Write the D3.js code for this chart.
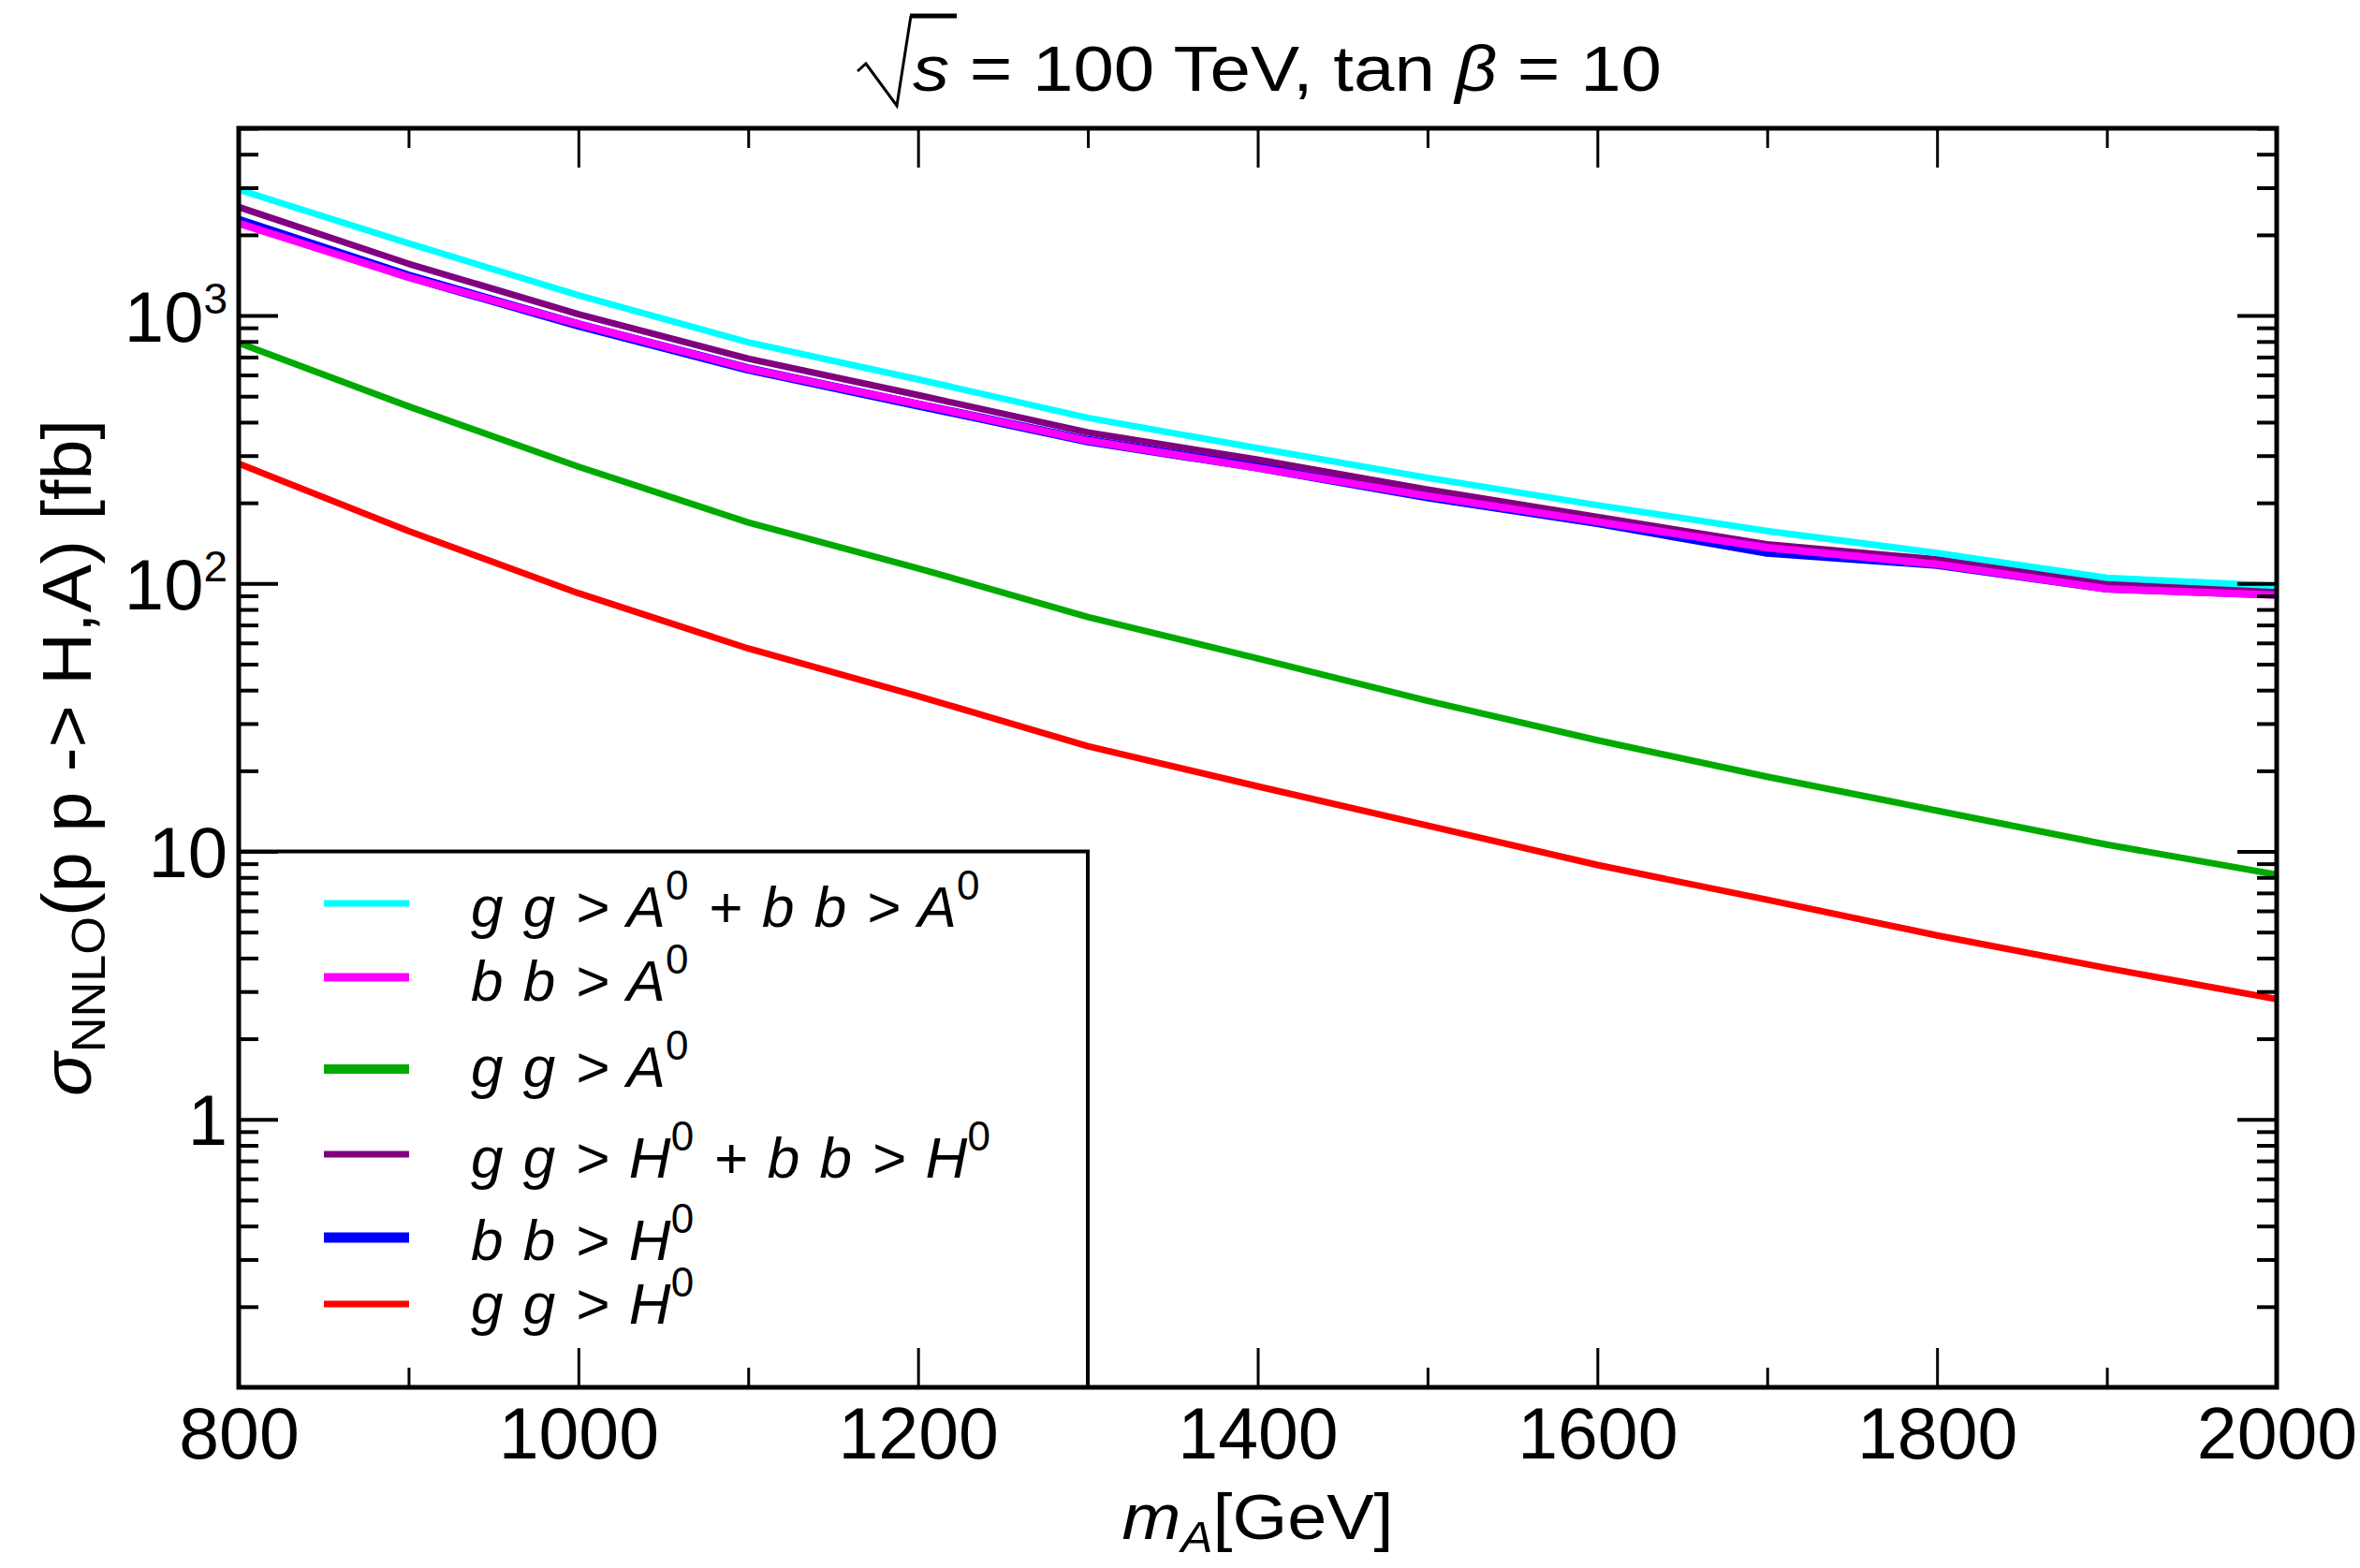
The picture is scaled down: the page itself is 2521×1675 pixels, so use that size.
<!DOCTYPE html>
<html><head><meta charset="utf-8">
<script src="https://cdn.jsdelivr.net/npm/d3@7"></script>
<style>
body{margin:0;background:#fff}
text{font-family:"Liberation Sans",Arial,Helvetica,sans-serif;fill:#000}
</style>
</head><body>
<svg id="c" width="2521" height="1675" xmlns="http://www.w3.org/2000/svg"></svg>
<script>
// ---------------- data ----------------
const massGeV   = [800, 900, 1000, 1100, 1200, 1300, 1400, 1500, 1600, 1700, 1800, 1900, 2000];
const ggA_bbA   = [2950, 1860, 1190, 795, 578, 415, 320, 248, 196, 157, 130, 105, 98];
const bbA       = [2210, 1390, 930, 634, 467, 341, 270, 212, 170, 136, 118, 95.5, 90.5];
const ggA       = [790, 458, 273, 169, 114, 75, 52.5, 36.5, 26, 19, 14.2, 10.6, 8.2];
const ggH_bbH   = [2540, 1560, 1012, 690, 505, 366, 290, 224, 177, 140, 123, 100, 94];
const bbH       = [2265, 1402, 922, 632, 464, 341, 272, 211, 169, 131, 118, 96.3, 91.3];
const ggH       = [280, 157, 92, 57.2, 38, 24.7, 17.5, 12.5, 8.9, 6.6, 4.86, 3.67, 2.81];

const legendLabels = ["g g > A^0 + b b > A^0", "b b > A^0", "g g > A^0",
                      "g g > H^0 + b b > H^0", "b b > H^0", "g g > H^0"];
const xTickValues = [800, 1000, 1200, 1400, 1600, 1800, 2000];
const xMinorTicks = [900, 1100, 1300, 1500, 1700, 1900];
const yTickValues = [1, 10, 100, 1000];
const yTickBase   = ["1", "10", "10", "10"];
const yTickExp    = ["", "", "2", "3"];
const yMinorTicks = [0.2,0.3,0.4,0.5,0.6,0.7,0.8,0.9, 2,3,4,5,6,7,8,9,
                     20,30,40,50,60,70,80,90, 200,300,400,500,600,700,800,900,
                     2000,3000,4000,5000];

// ---------------- styles ----------------
const series = [
  {values: ggA_bbA, color: "#00FFFF", w: 7,  lw: 7},
  {values: bbA,     color: "#FF00FF", w: 8,  lw: 9},
  {values: ggA,     color: "#00AA00", w: 7,  lw: 10},
  {values: ggH_bbH, color: "#800080", w: 7,  lw: 7},
  {values: bbH,     color: "#0000FF", w: 10, lw: 11},
  {values: ggH,     color: "#FF0000", w: 7,  lw: 7}
];
const drawOrder = [4, 5, 2, 3, 1, 0];

const svg = d3.select("#c");
const FONT = "Liberation Sans, Arial, sans-serif";
const L = 255, R = 2432, T = 137, B = 1482;
const x = d3.scaleLinear().domain([800, 2000]).range([L, R]);
const y = d3.scaleLog().domain([0.1, 5000]).range([B, T]);

// legend box (drawn first, below axes ticks)
const legX0 = L, legX1 = 1162, legY0 = y(10), legY1 = B;
svg.append("rect").attr("x", legX0).attr("y", legY0)
  .attr("width", legX1 - legX0).attr("height", legY1 - legY0)
  .attr("fill", "#fff").attr("stroke", "#000").attr("stroke-width", 4);

// clip for lines
svg.append("clipPath").attr("id", "clip").append("rect")
  .attr("x", L).attr("y", T).attr("width", R - L).attr("height", B - T);

// lines
const line = d3.line().x(d => x(d[0])).y(d => y(d[1]));
const gl = svg.append("g").attr("clip-path", "url(#clip)");
drawOrder.forEach(i => {
  const s = series[i];
  gl.append("path")
    .attr("d", line(massGeV.map((m, k) => [m, s.values[k]])))
    .attr("fill", "none").attr("stroke", s.color).attr("stroke-width", s.w)
    .attr("stroke-linejoin", "round");
});

// axes
function clean(g, w) {
  g.select(".domain").remove();
  g.selectAll(".tick line").attr("stroke", "#000").attr("stroke-width", w);
  g.attr("font-family", FONT);
}
// bottom
const gB = svg.append("g").attr("transform", `translate(0,${B})`)
  .call(d3.axisBottom(x).tickValues(xTickValues).tickSizeInner(-42).tickSizeOuter(0)
        .tickPadding(21).tickFormat(d3.format("d")));
clean(gB, 3);
gB.attr("font-size", 77);
gB.selectAll("text").attr("fill", "#000");
const gBm = svg.append("g").attr("transform", `translate(0,${B})`)
  .call(d3.axisBottom(x).tickValues(xMinorTicks).tickSizeInner(-21).tickSizeOuter(0).tickFormat(""));
clean(gBm, 3);
// top
const gT = svg.append("g").attr("transform", `translate(0,${T})`)
  .call(d3.axisTop(x).tickValues(xTickValues).tickSizeInner(-42).tickSizeOuter(0).tickFormat(""));
clean(gT, 3);
const gTm = svg.append("g").attr("transform", `translate(0,${T})`)
  .call(d3.axisTop(x).tickValues(xMinorTicks).tickSizeInner(-21).tickSizeOuter(0).tickFormat(""));
clean(gTm, 3);
// left
const gLft = svg.append("g").attr("transform", `translate(${L},0)`)
  .call(d3.axisLeft(y).tickValues(yTickValues).tickSizeInner(-42).tickSizeOuter(0).tickFormat(""));
clean(gLft, 4);
gLft.selectAll(".tick").each(function(d, i) {
  const t = d3.select(this).append("text")
    .attr("x", -12).attr("y", 0).attr("dy", "0.355em")
    .attr("text-anchor", "end").attr("font-size", 76).attr("fill", "#000");
  t.append("tspan").text(yTickBase[i]);
  if (yTickExp[i]) t.append("tspan").attr("font-size", 46).attr("dy", -30).text(yTickExp[i]);
});
const gLm = svg.append("g").attr("transform", `translate(${L},0)`)
  .call(d3.axisLeft(y).tickValues(yMinorTicks).tickSizeInner(-21).tickSizeOuter(0).tickFormat(""));
clean(gLm, 4);
// right
const gR = svg.append("g").attr("transform", `translate(${R},0)`)
  .call(d3.axisRight(y).tickValues(yTickValues).tickSizeInner(-42).tickSizeOuter(0).tickFormat(""));
clean(gR, 4);
const gRm = svg.append("g").attr("transform", `translate(${R},0)`)
  .call(d3.axisRight(y).tickValues(yMinorTicks).tickSizeInner(-21).tickSizeOuter(0).tickFormat(""));
clean(gRm, 4);

// frame
svg.append("rect").attr("x", L).attr("y", T).attr("width", R - L).attr("height", B - T)
  .attr("fill", "none").attr("stroke", "#000").attr("stroke-width", 5);

// title
const title = svg.append("text").attr("x", 975).attr("y", 97)
  .attr("font-size", 68).attr("textLength", 800).attr("lengthAdjust", "spacingAndGlyphs");
title.append("tspan").attr("font-style", "italic").text("s");
title.append("tspan").text(" = 100 TeV, tan ");
title.append("tspan").attr("font-style", "italic").text("β");
title.append("tspan").text(" = 10");
const tn = title.node();
const s0 = tn.getStartPositionOfChar(0).x, s1 = tn.getEndPositionOfChar(0).x;
svg.append("path")
  .attr("d", `M${s0-59},76 L${s0-50},68 L${s0-17},113 L${s0-2},17`)
  .attr("fill", "none").attr("stroke", "#000").attr("stroke-width", 3).attr("stroke-linejoin", "miter");
svg.append("line").attr("x1", s0 - 3).attr("x2", s1 + 8).attr("y1", 17).attr("y2", 17)
  .attr("stroke", "#000").attr("stroke-width", 5);

// x-axis title
const xt = svg.append("text").attr("x", (L + R) / 2).attr("y", 1644)
  .attr("text-anchor", "middle").attr("font-size", 68)
  .attr("textLength", 290).attr("lengthAdjust", "spacingAndGlyphs");
xt.append("tspan").attr("font-style", "italic").text("m");
xt.append("tspan").attr("font-style", "italic").attr("font-size", 46).attr("dy", 14).text("A");
xt.append("tspan").attr("dy", -14).text("[GeV]");

// y-axis title
const yt = svg.append("text").attr("transform", `translate(97,${(T + B) / 2}) rotate(-90)`)
  .attr("x", 0).attr("y", 0).attr("text-anchor", "middle").attr("font-size", 74)
  .attr("textLength", 723).attr("lengthAdjust", "spacingAndGlyphs");
yt.append("tspan").attr("font-style", "italic").text("σ");
yt.append("tspan").attr("font-size", 50).attr("dy", 15).text("NNLO");
yt.append("tspan").attr("dy", -15).text("(p p -> H,A) [fb]");

// legend entries
const legLineY = [965, 1044, 1142, 1233, 1322, 1393];
const legTextY = [990, 1069, 1161, 1258, 1346, 1414];
const gLeg = svg.append("g");
legendLabels.forEach((lab, i) => {
  const s = series[i];
  gLeg.append("line").attr("x1", 346).attr("x2", 437)
    .attr("y1", legLineY[i]).attr("y2", legLineY[i])
    .attr("stroke", s.color).attr("stroke-width", s.lw);
  const t = gLeg.append("text").attr("x", 503).attr("y", legTextY[i])
    .attr("font-size", 62).attr("font-style", "italic").attr("word-spacing", 4);
  const parts = lab.split("^0");
  parts.forEach((p, k) => {
    if (p) t.append("tspan").attr("dy", k > 0 ? 29 : 0).text(p);
    if (k < parts.length - 1) t.append("tspan").attr("font-size", 44)
      .attr("font-style", "normal").attr("dy", -29).text("0");
  });
});
</script>
</body></html>
